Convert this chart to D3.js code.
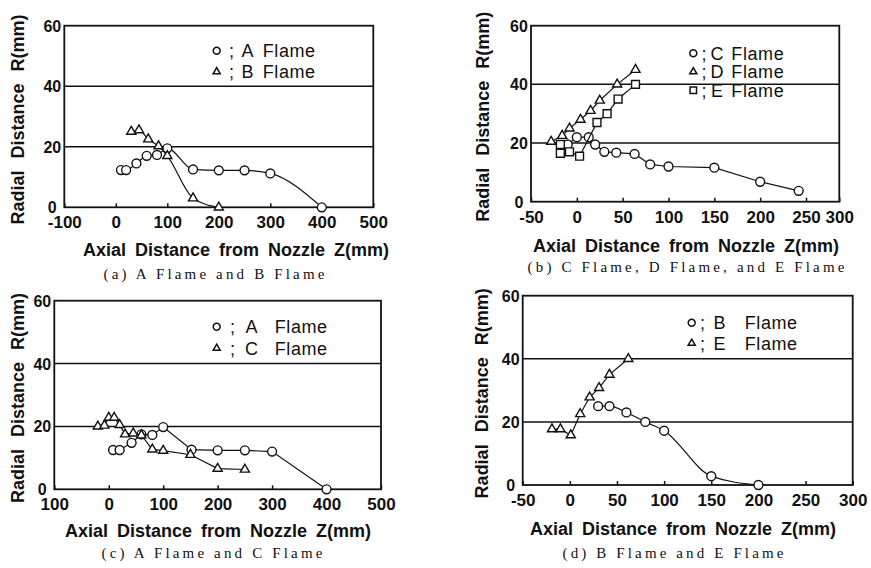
<!DOCTYPE html>
<html>
<head>
<meta charset="utf-8">
<script src="https://cdn.jsdelivr.net/npm/d3@7/dist/d3.min.js"></script>
<style>
  body { margin: 0; background: #fff; }
  text { fill: #111; font-family: "Liberation Sans", Arial, sans-serif; }
  .ytick, .xtick { font-weight: bold; }
  .ytick { font-size: 16px; }
  .xtick { font-size: 17px; }
  .atitle { font-size: 18px; font-weight: bold; word-spacing: 4px; }
  .ytitle { word-spacing: 7px; }
  .legend { font-size: 18px; letter-spacing: 0.6px; }
  .caption { font-family: "Liberation Serif", "DejaVu Serif", serif; font-size: 15px; }
</style>
</head>
<body>
<svg id="fig" width="871" height="568"></svg>
<script>
// values: [Z (mm), R (mm)]
const aFlameA = [[10,12.3],[20,12.3],[40,14.5],[60,17],[80,17.3],[100,19.5],[150,12.5],[200,12.2],[250,12.2],[300,11.2],[400,0]];
const aFlameB = [[30,25],[45,25.5],[63,22.5],[83,20.2],[100,17],[150,3],[200,0]];

const bFlameC = [[-10,19.5],[0,22],[13,22],[20,19.5],[30,17],[43,16.7],[63,16.3],[80,12.7],[100,12],[150,11.6],[200,6.8],[242,3.7]];
const bFlameD = [[-28,20.5],[-16,22.5],[-8,25],[4,28],[15,31],[25,34.5],[44,40],[64,45]];
const bFlameE = [[-18,19.5],[-18,16.5],[-8,17],[3,15.5],[22,27],[33,30],[45,35],[64,40]];

const cFlameA = [[8,12.5],[20,12.5],[42,14.8],[60,17.5],[80,17.3],[100,19.8],[152,12.6],[200,12.4],[250,12.4],[300,12],[400,0]];
const cFlameC = [[-20,20],[-8,20.3],[0,22.8],[10,22.8],[20,20.5],[30,17.5],[45,17.8],[60,17.2],[80,12.7],[100,12.3],[150,11],[200,6.6],[250,6.3]];

const dFlameB = [[30,25],[42,25],[60,23],[80,20],[100,17.2],[150,2.8],[200,0]];
const dFlameE = [[-19,17.7],[-10,17.7],[1,15.8],[11,22.5],[21,27.8],[31,30.8],[42,35],[62,40]];

// axes
const yTicks = [0, 20, 40, 60];
const yGrid = [20, 40];
const zTicksWide = [-100, 0, 100, 200, 300, 400, 500];
const zLabelsA = ["-100", "0", "100", "200", "300", "400", "500"];
const zLabelsC = ["100", "0", "100", "200", "300", "400", "500"];   // minus lost in the print
const zTicksNarrow = [-50, 0, 50, 100, 150, 200, 250, 300];
const zLabelsNarrow = ["-50", "0", "50", "100", "150", "200", "250", "300"];

const yTitle = "Radial Distance R(mm)";
const xTitle = "Axial Distance from Nozzle Z(mm)";

const svg = d3.select("#fig");

// layout of each panel (pixels)
const panels = [
  { L: 64.3, R: 373.3, T: 25.7, B: 207.3, zDomain: [-100, 500], ticks: zTicksWide, labels: zLabelsA,
    yTitleX: 18, xTitleX: 236, xTitleY: 256, capX: 214, capY: 279,
    caption: "(a) A Flame and B Flame",
    series: [{ data: aFlameA, sym: "circle", curve: d3.curveMonotoneX, name: "A" },
             { data: aFlameB, sym: "triangle", curve: d3.curveMonotoneX, name: "B" }],
    legend: { x: 216.7, y: 50.7, dy: 21, semi: 15, letter: 31, word: 46 } },
  { L: 531, R: 839.3, T: 25.7, B: 201.7, zDomain: [-50, 250, 300], zBreak: 0.892,
    ticks: zTicksNarrow, labels: zLabelsNarrow,
    yTitleX: 483, xTitleX: 686, xTitleY: 252, capX: 686, capY: 272,
    caption: "(b) C Flame, D Flame, and E Flame",
    series: [{ data: bFlameC, sym: "circle", curve: d3.curveLinear, name: "C" },
             { data: bFlameD, sym: "triangle", curve: d3.curveLinear, name: "D" },
             { data: bFlameE, sym: "square", curve: d3.curveLinear, name: "E" }],
    legend: { x: 693.3, y: 53.3, dy: 18.5, semi: 11, letter: 24, word: 38 } },
  { L: 54.3, R: 381, T: 300.7, B: 489.3, zDomain: [-100, 500], ticks: zTicksWide, labels: zLabelsC,
    yTitleX: 18, xTitleX: 218, xTitleY: 537, capX: 212, capY: 558,
    caption: "(c) A Flame and C Flame",
    series: [{ data: cFlameA, sym: "circle", curve: d3.curveLinear, name: "A" },
             { data: cFlameC, sym: "triangle", curve: d3.curveLinear, name: "C" }],
    legend: { x: 216.7, y: 326.7, dy: 21.6, semi: 16, letter: 35, word: 58 } },
  { L: 522.7, R: 852.7, T: 295.7, B: 485, zDomain: [-50, 300], ticks: zTicksNarrow, labels: zLabelsNarrow,
    yTitleX: 482, xTitleX: 683, xTitleY: 535, capX: 673, capY: 558,
    caption: "(d) B Flame and E Flame",
    series: [{ data: dFlameB, sym: "circle", curve: d3.curveMonotoneX, name: "B" },
             { data: dFlameE, sym: "triangle", curve: d3.curveLinear, name: "E" }],
    legend: { x: 691.7, y: 322.7, dy: 20.6, semi: 11, letter: 28, word: 53 } }
];

const symTypes = { circle: d3.symbolCircle, triangle: d3.symbolTriangle, square: d3.symbolSquare };
const symSize = { circle: 62, triangle: 36, square: 62 };
const legSize = { circle: 38, triangle: 22, square: 42 };

panels.forEach(p => {
  const g = svg.append("g");

  let xRange = [p.L, p.R];
  if (p.zBreak) xRange = [p.L, p.L + p.zBreak * (p.R - p.L), p.R];
  const x = d3.scaleLinear().domain(p.zDomain).range(xRange);
  const y = d3.scaleLinear().domain([0, 60]).range([p.B, p.T]);

  // grid lines at 20 and 40
  g.selectAll(".grid").data(yGrid).enter().append("line")
    .attr("x1", p.L).attr("x2", p.R)
    .attr("y1", d => y(d)).attr("y2", d => y(d))
    .attr("stroke", "#111").attr("stroke-width", 1.5);

  // bottom axis with inward ticks
  const xAxis = d3.axisBottom(x)
    .tickValues(p.ticks)
    .tickFormat((d, i) => p.labels[i])
    .tickSizeInner(-4).tickSizeOuter(0);
  const xg = g.append("g").attr("transform", "translate(0," + p.B + ")").call(xAxis);
  xg.select(".domain").remove();
  xg.selectAll("line").attr("stroke", "#111").attr("stroke-width", 1.5);
  xg.selectAll("text").attr("class", "xtick").attr("y", 21).attr("dy", 0).attr("fill", null);
  xg.attr("font-size", null).attr("font-family", null);

  // left axis: labels only
  const yAxis = d3.axisLeft(y).tickValues(yTicks).tickSize(0);
  const yg = g.append("g").attr("transform", "translate(" + p.L + ",0)").call(yAxis);
  yg.select(".domain").remove();
  yg.selectAll("text").attr("class", "ytick").attr("x", -12).attr("dy", "0.34em")
    .attr("text-anchor", "middle").attr("fill", null);
  yg.attr("font-size", null).attr("font-family", null).attr("text-anchor", null);

  // frame
  g.append("rect")
    .attr("x", p.L).attr("y", p.T)
    .attr("width", p.R - p.L).attr("height", p.B - p.T)
    .attr("fill", "none").attr("stroke", "#111").attr("stroke-width", 1.8);

  // series lines and markers
  p.series.forEach(s => {
    const line = d3.line().x(d => x(d[0])).y(d => y(d[1])).curve(s.curve);
    g.append("path").datum(s.data).attr("d", line)
      .attr("fill", "none").attr("stroke", "#111").attr("stroke-width", 1.2);
    g.selectAll(null).data(s.data).enter().append("path")
      .attr("d", d3.symbol().type(symTypes[s.sym]).size(symSize[s.sym]))
      .attr("transform", d => "translate(" + x(d[0]) + "," + y(d[1]) + ")")
      .attr("fill", "#fff").attr("stroke", "#111").attr("stroke-width", 1.4);
  });

  // legend
  const lg = p.legend;
  p.series.forEach((s, i) => {
    const ly = lg.y + i * lg.dy;
    g.append("path")
      .attr("d", d3.symbol().type(symTypes[s.sym]).size(legSize[s.sym]))
      .attr("transform", "translate(" + lg.x + "," + ly + ")")
      .attr("fill", "#fff").attr("stroke", "#111").attr("stroke-width", 1.5);
    g.append("text").attr("class", "legend").attr("x", lg.x + lg.semi).attr("y", ly)
      .attr("dy", "0.36em").attr("text-anchor", "middle").text(";");
    g.append("text").attr("class", "legend").attr("x", lg.x + lg.letter).attr("y", ly)
      .attr("dy", "0.36em").attr("text-anchor", "middle").text(s.name);
    g.append("text").attr("class", "legend").attr("x", lg.x + lg.word).attr("y", ly)
      .attr("dy", "0.36em").text("Flame");
  });

  // axis titles
  g.append("text").attr("class", "atitle ytitle")
    .attr("transform", "translate(" + p.yTitleX + "," + ((p.T + p.B) / 2 + 3) + ") rotate(-90)")
    .attr("text-anchor", "middle").attr("dy", "0.36em").text(yTitle);
  g.append("text").attr("class", "atitle")
    .attr("x", p.xTitleX).attr("y", p.xTitleY).attr("text-anchor", "middle").text(xTitle);

  // caption, set on a fixed character pitch like the typewritten original
  g.append("text").attr("class", "caption")
    .attr("x", p.capX).attr("y", p.capY).attr("text-anchor", "middle")
    .attr("textLength", p.caption.length * 9.6).attr("lengthAdjust", "spacing")
    .text(p.caption);
});
</script>
</body>
</html>
